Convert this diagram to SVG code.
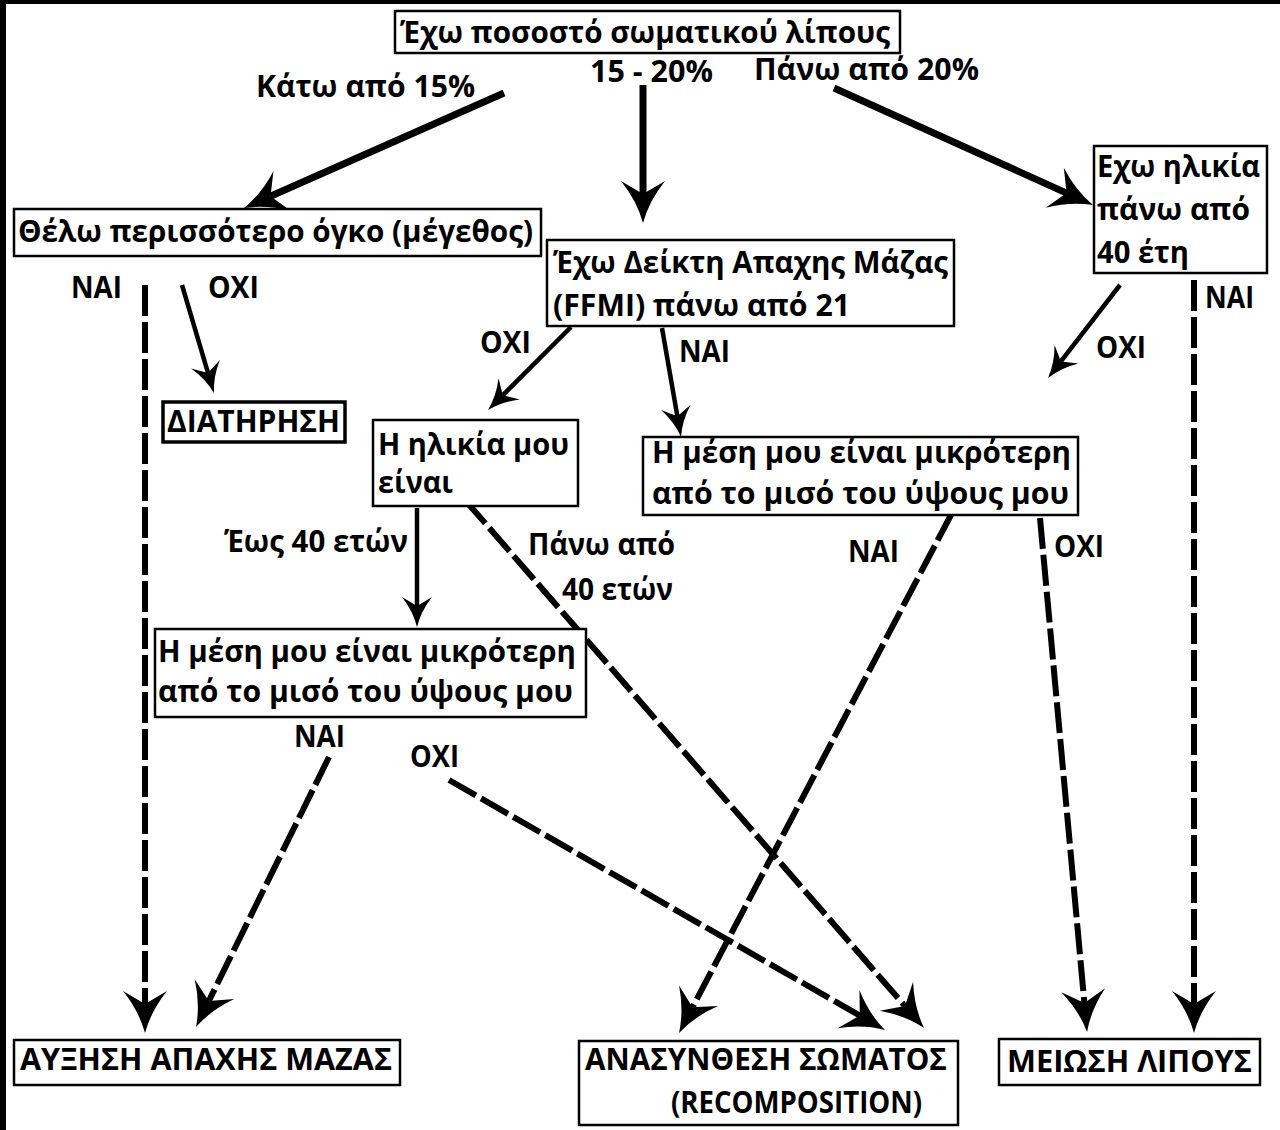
<svg xmlns="http://www.w3.org/2000/svg" width="1280" height="1130" viewBox="0 0 1280 1130">
<style>
.t{font-family:"Open Sans","Noto Sans","DejaVu Sans",sans-serif;font-weight:700;font-size:31px;fill:#000}
.box{fill:#fff;stroke:#000;stroke-width:2.5}
.thick{fill:none;stroke:#000;stroke-width:7}
.thin{fill:none;stroke:#000;stroke-width:4.5}
.dash{fill:none;stroke:#000;stroke-width:6;stroke-dasharray:31 6}
</style>
<defs>
<marker id="big" markerUnits="userSpaceOnUse" markerWidth="60" markerHeight="60" refX="13" refY="0" orient="auto" overflow="visible" viewBox="-30 -30 60 60">
<path d="M0,-22 Q20,-6 42,0 Q20,6 0,22 L13,0 Z" fill="#000"/>
</marker>
<marker id="small" markerUnits="userSpaceOnUse" markerWidth="50" markerHeight="50" refX="9" refY="0" orient="auto" overflow="visible" viewBox="-25 -25 50 50">
<path d="M0,-15 Q14,-4 30,0 Q14,4 0,15 L9,0 Z" fill="#000"/>
</marker>
</defs>
<rect x="0" y="0" width="1280" height="1130" fill="#fff"/>
<rect x="0" y="0" width="1280" height="4" fill="#000"/>
<rect x="0" y="0" width="6" height="1130" fill="#000"/>

<g id="connectors">
<path class="thick" d="M504,93 L270.5,196.3" marker-end="url(#big)"/>
<path class="thick" d="M643,85 L643,194" marker-end="url(#big)"/>
<path class="thick" d="M834,88 L1066.6,193.1" marker-end="url(#big)"/>
<path class="dash" d="M145,285 L145,1004" marker-end="url(#big)"/>
<path class="dash" d="M1194,280 L1194,1004" marker-end="url(#big)"/>
<path class="thin" d="M182,285 L208,372.9" marker-end="url(#small)"/>
<path class="thin" d="M571,327 L502.8,395.2" marker-end="url(#small)"/>
<path class="thin" d="M662,328 L677.4,416.3" marker-end="url(#small)"/>
<path class="thin" d="M1120,285 L1060.9,361.4" marker-end="url(#small)"/>
<path class="thin" d="M417,508 L417,606" marker-end="url(#small)"/>
<path class="dash" d="M465,500 L905,1006.1" marker-end="url(#big)"/>
<path class="dash" d="M952,513 L692.5,1007.3" marker-end="url(#big)"/>
<path class="dash" d="M1040,518 L1084.4,1003.1" marker-end="url(#big)"/>
<path class="dash" d="M329,757 L208.8,1001" marker-end="url(#big)"/>
<path class="dash" d="M449,780 L859.8,1015.6" marker-end="url(#big)"/>
</g>

<g id="labels">
<text class="t" x="256" y="97" textLength="219" lengthAdjust="spacingAndGlyphs">Κάτω από 15%</text>
<text class="t" x="590" y="82" textLength="123" lengthAdjust="spacingAndGlyphs">15 - 20%</text>
<text class="t" x="754" y="80" textLength="225" lengthAdjust="spacingAndGlyphs">Πάνω από 20%</text>
<text class="t" x="71" y="298" textLength="51" lengthAdjust="spacingAndGlyphs">NAI</text>
<text class="t" x="208" y="298" textLength="51" lengthAdjust="spacingAndGlyphs">OXI</text>
<text class="t" x="480" y="353" textLength="51" lengthAdjust="spacingAndGlyphs">OXI</text>
<text class="t" x="679" y="362" textLength="51" lengthAdjust="spacingAndGlyphs">NAI</text>
<text class="t" x="1096" y="358" textLength="50" lengthAdjust="spacingAndGlyphs">OXI</text>
<text class="t" x="1205" y="308" textLength="49" lengthAdjust="spacingAndGlyphs">NAI</text>
<text class="t" x="224" y="552" textLength="184" lengthAdjust="spacingAndGlyphs">Έως 40 ετών</text>
<text class="t" x="528" y="555" textLength="147" lengthAdjust="spacingAndGlyphs">Πάνω από</text>
<text class="t" x="562" y="600" textLength="111" lengthAdjust="spacingAndGlyphs">40 ετών</text>
<text class="t" x="848" y="562" textLength="51" lengthAdjust="spacingAndGlyphs">NAI</text>
<text class="t" x="1054" y="557" textLength="50" lengthAdjust="spacingAndGlyphs">OXI</text>
<text class="t" x="294" y="747" textLength="51" lengthAdjust="spacingAndGlyphs">NAI</text>
<text class="t" x="410" y="767" textLength="49" lengthAdjust="spacingAndGlyphs">OXI</text>
</g>

<g id="n-top">
<rect class="box" x="395" y="11" width="505" height="42"/>
<text class="t" x="400" y="43" textLength="490" lengthAdjust="spacingAndGlyphs">Έχω ποσοστό σωματικού λίπους</text>
</g>
<g id="n-volume">
<rect class="box" x="14" y="209" width="527" height="47"/>
<text class="t" x="18" y="242" textLength="515" lengthAdjust="spacingAndGlyphs">Θέλω περισσότερο όγκο (μέγεθος)</text>
</g>
<g id="n-ffmi">
<rect class="box" x="547" y="240" width="407" height="86"/>
<text class="t" x="553" y="273" textLength="395" lengthAdjust="spacingAndGlyphs">Έχω Δείκτη Απαχης Μάζας</text>
<text class="t" x="553" y="316" textLength="297" lengthAdjust="spacingAndGlyphs">(FFMI) πάνω από 21</text>
</g>
<g id="n-age40">
<rect class="box" x="1094" y="146" width="173" height="127"/>
<text class="t" x="1097" y="177" textLength="163" lengthAdjust="spacingAndGlyphs">Εχω ηλικία</text>
<text class="t" x="1097" y="220" textLength="153" lengthAdjust="spacingAndGlyphs">πάνω από</text>
<text class="t" x="1097" y="263" textLength="92" lengthAdjust="spacingAndGlyphs">40 έτη</text>
</g>
<g id="n-maintain">
<rect x="163" y="402" width="182" height="40" fill="#fff" stroke="#000" stroke-width="3.5"/>
<text class="t" x="167" y="432" textLength="173" lengthAdjust="spacingAndGlyphs">ΔΙΑΤΗΡΗΣΗ</text>
</g>
<g id="n-myage">
<rect class="box" x="373" y="420" width="205" height="86"/>
<text class="t" x="378" y="455" textLength="191" lengthAdjust="spacingAndGlyphs">Η ηλικία μου</text>
<text class="t" x="378" y="493" textLength="75" lengthAdjust="spacingAndGlyphs">είναι</text>
</g>
<g id="n-waist-right">
<rect class="box" x="643" y="437" width="435" height="78"/>
<text class="t" x="652" y="463" textLength="419" lengthAdjust="spacingAndGlyphs">Η μέση μου είναι μικρότερη</text>
<text class="t" x="652" y="504" textLength="417" lengthAdjust="spacingAndGlyphs">από το μισό του ύψους μου</text>
</g>
<g id="n-waist-left">
<rect class="box" x="155" y="629" width="431" height="88"/>
<text class="t" x="158" y="662" textLength="418" lengthAdjust="spacingAndGlyphs">Η μέση μου είναι μικρότερη</text>
<text class="t" x="158" y="702" textLength="415" lengthAdjust="spacingAndGlyphs">από το μισό του ύψους μου</text>
</g>
<g id="n-gain">
<rect class="box" x="14" y="1040" width="386" height="45"/>
<text class="t" x="20" y="1070" textLength="372" lengthAdjust="spacingAndGlyphs">ΑΥΞΗΣΗ ΑΠΑΧΗΣ ΜΑΖΑΣ</text>
</g>
<g id="n-recomp">
<rect class="box" x="579" y="1041" width="379" height="84"/>
<text class="t" x="585" y="1070" textLength="362" lengthAdjust="spacingAndGlyphs">ΑΝΑΣΥΝΘΕΣΗ ΣΩΜΑΤΟΣ</text>
<text class="t" x="671" y="1113" textLength="251" lengthAdjust="spacingAndGlyphs">(RECOMPOSITION)</text>
</g>
<g id="n-fatloss">
<rect class="box" x="999" y="1039" width="261" height="46"/>
<text class="t" x="1007" y="1072" textLength="245" lengthAdjust="spacingAndGlyphs">ΜΕΙΩΣΗ ΛΙΠΟΥΣ</text>
</g>
</svg>
